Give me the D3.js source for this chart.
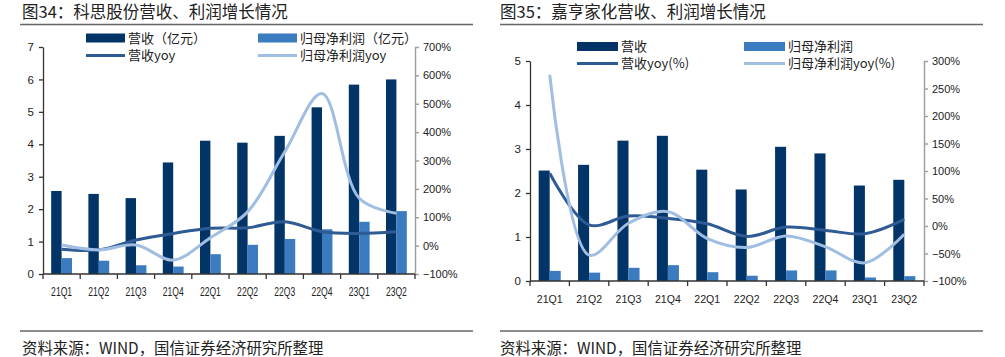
<!DOCTYPE html>
<html><head><meta charset="utf-8">
<script src="https://cdn.jsdelivr.net/npm/d3@7"></script>
<style>
html,body{margin:0;padding:0;background:#fff;}
svg{display:block;}
</style></head>
<body>
<svg id="c" width="1005" height="357"></svg>
<script>
// ---------- data ----------
const categories = ['21Q1','21Q2','21Q3','21Q4','22Q1','22Q2','22Q3','22Q4','23Q1','23Q2'];

// Chart 34: 科思股份
const ksTitle = '图34：科思股份营收、利润增长情况';
const ksRevenue   = [2.56, 2.47, 2.34, 3.44, 4.11, 4.05, 4.26, 5.14, 5.84, 6.00];
const ksProfit    = [0.49, 0.41, 0.27, 0.23, 0.61, 0.90, 1.08, 1.38, 1.61, 1.94];
const ksRevYoy    = [-13, -15, 20, 43, 61, 63, 84, 49, 43, 49];
const ksProfitYoy = [2, -15, 2, -51, 28, 119, 331, 536, 167, 114];
const ksLeftTicks  = [0,1,2,3,4,5,6,7];
const ksRightTicks = [-100,0,100,200,300,400,500,600,700];
const ksLegend = ['营收（亿元）','归母净利润（亿元）','营收yoy','归母净利润yoy'];

// Chart 35: 嘉亨家化
const jhTitle = '图35：嘉亨家化营收、利润增长情况';
const jhRevenue   = [2.51, 2.64, 3.19, 3.30, 2.53, 2.08, 3.05, 2.90, 2.17, 2.30];
const jhProfit    = [0.23, 0.19, 0.30, 0.36, 0.20, 0.12, 0.24, 0.24, 0.08, 0.11];
const jhRevYoy    = [96, 2, 18, 14, 4, -19, -2, -8, -14, 12];
const jhProfitYoy = [275, -53, 5, 26, -23, -39, -18, -38, -67, -15];
const jhLeftTicks  = [0,1,2,3,4,5];
const jhRightTicks = [-100,-50,0,50,100,150,200,250,300];
const jhLegend = ['营收','归母净利润','营收yoy(%)','归母净利润yoy(%)'];

const sourceText = '资料来源：WIND，国信证券经济研究所整理';

// ---------- styles ----------
const C_DARK = '#033468', C_LIGHT = '#3b7bc0', C_LREV = '#2f5b94', C_LPRO = '#a0bee2';
const SANS = 'Liberation Sans, Arial, sans-serif';
const CJK = "'Noto Sans CJK SC','Noto Sans', sans-serif";

const svg = d3.select('#c');

function drawChart(cfg){
  const g = svg.append('g');
  // title
  g.append('text').attr('x', cfg.titleX).attr('y', 18)
    .attr('font-family', CJK).attr('font-size', 16.5).attr('fill', '#222')
    .text(cfg.title);
  g.append('line').attr('x1', cfg.ruleX1).attr('x2', cfg.ruleX2)
    .attr('y1', 24.5).attr('y2', 24.5).attr('stroke', '#666').attr('stroke-width', 1.5);
  g.append('line').attr('x1', cfg.ruleX1).attr('x2', cfg.ruleX2)
    .attr('y1', 331).attr('y2', 331).attr('stroke', '#666').attr('stroke-width', 1.5);
  g.append('text').attr('x', cfg.titleX).attr('y', 354)
    .attr('font-family', CJK).attr('font-size', 15.4).attr('fill', '#222')
    .text(sourceText);

  const x = d3.scaleBand().domain(categories).range([cfg.left, cfg.right]).padding(0);
  const y0 = d3.scaleLinear().domain(cfg.leftDomain).range([cfg.bottom, cfg.top]);
  const y1 = d3.scaleLinear().domain(cfg.rightDomain).range([cfg.bottom, cfg.top]);
  const bw = x.bandwidth() * 0.28;
  const cx = d => x(d) + x.bandwidth()/2;

  // bars
  g.append('g').selectAll('rect').data(categories).join('rect')
    .attr('x', d => cx(d) - bw).attr('width', bw)
    .attr('y', (d,i) => y0(cfg.revenue[i]))
    .attr('height', (d,i) => y0(0) - y0(cfg.revenue[i]))
    .attr('fill', C_DARK);
  g.append('g').selectAll('rect').data(categories).join('rect')
    .attr('x', d => cx(d)).attr('width', bw)
    .attr('y', (d,i) => y0(cfg.profit[i]))
    .attr('height', (d,i) => y0(0) - y0(cfg.profit[i]))
    .attr('fill', C_LIGHT);

  // lines
  const line = d3.line().curve(d3.curveCatmullRom.alpha(0.5))
    .x(d => cx(d[0])).y(d => y1(d[1]));
  g.append('path').datum(categories.map((c,i)=>[c, cfg.revYoy[i]]))
    .attr('d', line).attr('fill','none').attr('stroke', C_LREV).attr('stroke-width', 3);
  g.append('path').datum(categories.map((c,i)=>[c, cfg.profitYoy[i]]))
    .attr('d', line).attr('fill','none').attr('stroke', C_LPRO).attr('stroke-width', 3);

  // left axis
  const ax0 = g.append('g').attr('transform', `translate(${cfg.left},0)`)
    .call(d3.axisLeft(y0).tickValues(cfg.leftTicks).tickFormat(d3.format('d'))
      .tickSize(4).tickSizeOuter(0).tickPadding(5));
  ax0.select('.domain').attr('stroke', '#333').attr('stroke-width', 1.3);
  ax0.selectAll('.tick line').attr('stroke', '#333').attr('stroke-width', 1.3);
  ax0.selectAll('text').attr('font-family', SANS).attr('font-size', 11.5).attr('fill', '#222');

  // right axis
  const ax1 = g.append('g').attr('transform', `translate(${cfg.right},0)`)
    .call(d3.axisRight(y1).tickValues(cfg.rightTicks).tickFormat(d => d3.format('d')(d) + '%')
      .tickSize(4).tickSizeOuter(0).tickPadding(4));
  ax1.select('.domain').attr('stroke', '#a0a0a0').attr('stroke-width', 1.5);
  ax1.selectAll('.tick line').attr('stroke', '#a0a0a0').attr('stroke-width', 1.5);
  ax1.selectAll('text').attr('font-family', SANS).attr('font-size', 11).attr('fill', '#222');

  // x axis
  const axx = g.append('g').attr('transform', `translate(0,${cfg.bottom})`);
  axx.append('line').attr('x1', cfg.left).attr('x2', cfg.right)
    .attr('stroke', '#333').attr('stroke-width', 1.5);
  const bounds = categories.map(c => x(c)).concat([x.range()[1]]);
  axx.selectAll('line.t').data(bounds).join('line').attr('class','t')
    .attr('x1', d=>d).attr('x2', d=>d).attr('y1', 0).attr('y2', 5)
    .attr('stroke', '#333').attr('stroke-width', 1.3);
  axx.selectAll('text').data(categories).join('text')
    .attr('transform', d => `translate(${cx(d)},22) scale(${cfg.catScale},1)`)
    .attr('text-anchor','middle')
    .attr('font-family', SANS).attr('font-size', cfg.catSize).attr('fill','#222')
    .text(d=>d);

  // legend
  const L = cfg.legend;
  const lg = g.append('g').attr('font-family', CJK).attr('font-size', 13).attr('fill','#222');
  lg.append('rect').attr('x', L.x1).attr('y', L.r1 - 4.5).attr('width', L.w).attr('height', 9).attr('fill', C_DARK);
  lg.append('rect').attr('x', L.x2).attr('y', L.r1 - 4.5).attr('width', L.w).attr('height', 9).attr('fill', C_LIGHT);
  lg.append('line').attr('x1', L.x1).attr('x2', L.x1 + L.w).attr('y1', L.r2).attr('y2', L.r2)
    .attr('stroke', C_LREV).attr('stroke-width', 3);
  lg.append('line').attr('x1', L.x2).attr('x2', L.x2 + L.w).attr('y1', L.r2).attr('y2', L.r2)
    .attr('stroke', C_LPRO).attr('stroke-width', 3);
  const lt = [[L.x1, L.r1, cfg.legendText[0]], [L.x2, L.r1, cfg.legendText[1]],
              [L.x1, L.r2, cfg.legendText[2]], [L.x2, L.r2, cfg.legendText[3]]];
  lg.selectAll('text').data(lt).join('text')
    .attr('x', d => d[0] + L.w + 3).attr('y', d => d[1]).attr('dy', '0.36em')
    .text(d => d[2]);
}

drawChart({
  title: ksTitle, titleX: 22, ruleX1: 20, ruleX2: 473,
  left: 43, right: 415, top: 47, bottom: 274,
  leftDomain: [0,7], rightDomain: [-100,700],
  leftTicks: ksLeftTicks, rightTicks: ksRightTicks,
  revenue: ksRevenue, profit: ksProfit, revYoy: ksRevYoy, profitYoy: ksProfitYoy,
  catSize: 13, catScale: 0.66,
  legend: {x1: 86, x2: 258, w: 39, r1: 38, r2: 55.5},
  legendText: ksLegend
});

drawChart({
  title: jhTitle, titleX: 500, ruleX1: 500, ruleX2: 983,
  left: 530, right: 924, top: 61, bottom: 281,
  leftDomain: [0,5], rightDomain: [-100,300],
  leftTicks: jhLeftTicks, rightTicks: jhRightTicks,
  revenue: jhRevenue, profit: jhProfit, revYoy: jhRevYoy, profitYoy: jhProfitYoy,
  catSize: 11.5, catScale: 0.92,
  legend: {x1: 577, x2: 744, w: 41, r1: 46.5, r2: 63.5},
  legendText: jhLegend
});
</script>
</body></html>
